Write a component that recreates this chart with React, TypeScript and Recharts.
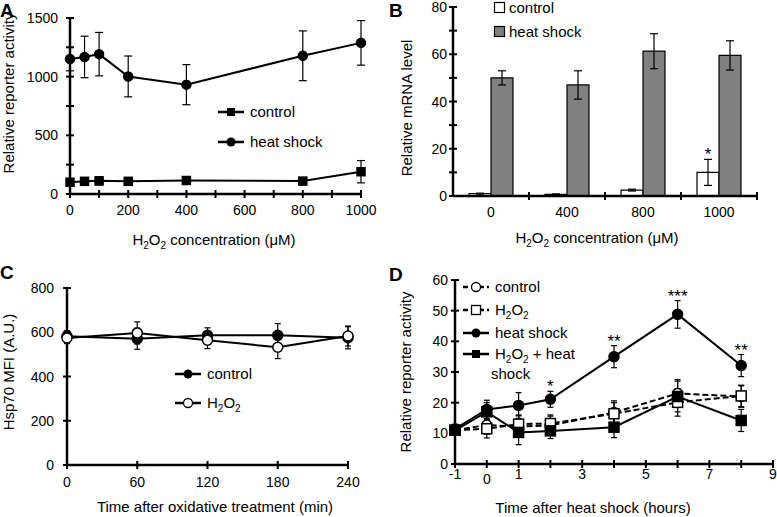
import React from "react";
import { LineChart, Line, BarChart, Bar, XAxis, YAxis, ErrorBar, ReferenceDot, Label } from "recharts";

const FONT = '"Liberation Sans", Arial, Helvetica, sans-serif';

// Panel A - reporter activity vs H2O2 dose
const A_DOSE = [0, 50, 100, 200, 400, 800, 1000];
const A_CONTROL = [100, 108, 112, 108, 115, 110, 190];
const A_CONTROL_ERR = [20, 30, 35, 30, 30, 25, 95];
const A_HEAT = [1150, 1168, 1192, 1002, 932, 1178, 1288];
const A_HEAT_ERR = [100, 177, 185, 174, 171, 212, 190];
const A_X_TICKS = [0, 100, 200, 300, 400, 500, 600, 700, 800, 900, 1000];
const A_X_LABELS = [0, 200, 400, 600, 800, 1000];
const A_Y_TICKS = [0, 250, 500, 750, 1000, 1250, 1500];
const A_Y_LABELS = [0, 500, 1000, 1500];

// Panel B - mRNA level
const B_DOSE = ["0", "400", "800", "1000"];
const B_CONTROL = [1, 0.7, 2.5, 10];
const B_CONTROL_ERR = [0.2, 0.2, 0.4, 5.5];
const B_HEAT = [50, 47, 61.3, 59.5];
const B_HEAT_ERR = [3, 6, 7.4, 6.2];
const B_SIG = ["", "", "", "*"];
const B_Y_TICKS = [0, 10, 20, 30, 40, 50, 60, 70, 80];
const B_Y_LABELS = [0, 20, 40, 60, 80];

// Panel C - Hsp70 MFI
const C_TIME = [0, 60, 120, 180, 240];
const C_CONTROL = [582, 571, 586, 586, 575];
const C_CONTROL_ERR = [25, 48, 34, 53, 50];
const C_H2O2 = [574, 597, 564, 532, 583];
const C_H2O2_ERR = [25, 50, 38, 51, 45];
const C_X_TICKS = [0, 60, 120, 180, 240];
const C_Y_TICKS = [0, 200, 400, 600, 800];

// Panel D - time course after heat shock
const D_TIME = [-1, 0, 1, 2, 4, 6, 8];
const D_CONTROL = [11, 12.7, 12.2, 12.6, 16.8, 23, 22];
const D_CONTROL_ERR = [1, 3, 3.5, 3, 3.8, 4.5, 3.5];
const D_H2O2 = [11, 11.5, 13, 13.2, 16.4, 20.1, 22.2];
const D_H2O2_ERR = [1, 3, 3, 2.8, 3.6, 4.5, 3.5];
const D_HEAT = [11.5, 17.8, 19.1, 21.1, 35, 48.8, 32.1];
const D_HEAT_ERR = [1, 3, 4.2, 2.6, 3.6, 4.5, 3.6];
const D_COMBO = [11, 17, 10.3, 10.8, 12, 22, 14.2];
const D_COMBO_ERR = [1, 3, 4, 2.5, 3.4, 5, 3.6];
const D_SIG = ["", "", "", "*", "**", "***", "**"];
const D_X_TICKS = [-1, 0, 1, 2, 3, 4, 5, 6, 7, 8, 9];
const D_X_LABELS = [-1, 0, 1, 3, 5, 7, 9];
const D_Y_TICKS = [0, 10, 20, 30, 40, 50, 60];

const aData = A_DOSE.map((x, i) => ({
  x,
  control: A_CONTROL[i],
  controlErr: A_CONTROL_ERR[i],
  heat: A_HEAT[i],
  heatErr: A_HEAT_ERR[i],
}));
const bData = B_DOSE.map((dose, i) => ({
  dose,
  control: B_CONTROL[i],
  controlErr: B_CONTROL_ERR[i],
  heat: B_HEAT[i],
  heatErr: B_HEAT_ERR[i],
}));
const cData = C_TIME.map((t, i) => ({
  t,
  control: C_CONTROL[i],
  controlErr: C_CONTROL_ERR[i],
  h2o2: C_H2O2[i],
  h2o2Err: C_H2O2_ERR[i],
}));
const dData = D_TIME.map((t, i) => ({
  t,
  control: D_CONTROL[i],
  controlErr: D_CONTROL_ERR[i],
  h2o2: D_H2O2[i],
  h2o2Err: D_H2O2_ERR[i],
  heat: D_HEAT[i],
  heatErr: D_HEAT_ERR[i],
  combo: D_COMBO[i],
  comboErr: D_COMBO_ERR[i],
}));

const AXIS = { stroke: "#000", strokeWidth: 2.5 };
const B_BAR = 22;
const B_BAND = 76;

// ticks cross the axis line, only some carry a label
function yTick(labels: number[], gap: number) {
  return (p: any) => {
    const v = p.payload.value;
    return (
      <g>
        <line x1={p.x - 4} x2={p.x + 4} y1={p.y} y2={p.y} stroke="#000" strokeWidth={2} />
        {labels.includes(v) && (
          <text x={p.x - gap} y={p.y + 5} textAnchor="end" fontSize={14} fontFamily={FONT} fill="#000">
            {v}
          </text>
        )}
      </g>
    );
  };
}

function xTick(labels: number[], dy: number, shift: Record<string, number> = {}) {
  return (p: any) => {
    const v = p.payload.value;
    return (
      <g>
        <line x1={p.x} x2={p.x} y1={p.y - 4} y2={p.y + 4} stroke="#000" strokeWidth={2} />
        {labels.includes(v) && (
          <text x={p.x} y={p.y + dy + (shift[String(v)] || 0)} textAnchor="middle" fontSize={14} fontFamily={FONT} fill="#000">
            {v}
          </text>
        )}
      </g>
    );
  };
}

const bXTick = (p: any) => {
  const half = B_BAND / 2;
  return (
    <g>
      {p.index > 0 && <line x1={p.x - half} x2={p.x - half} y1={p.y - 4} y2={p.y + 4} stroke="#000" strokeWidth={2} />}
      {p.index === B_DOSE.length - 1 && (
        <line x1={p.x + half} x2={p.x + half} y1={p.y - 4} y2={p.y + 4} stroke="#000" strokeWidth={2} />
      )}
      <text x={p.x} y={p.y + 21} textAnchor="middle" fontSize={14} fontFamily={FONT} fill="#000">
        {p.payload.value}
      </text>
    </g>
  );
};

function h2o2(rest: string) {
  return [
    <tspan key="a">H</tspan>,
    <tspan key="b" dy={4} fontSize={10}>2</tspan>,
    <tspan key="c" dy={-4}>O</tspan>,
    <tspan key="d" dy={4} fontSize={10}>2</tspan>,
    <tspan key="e" dy={-4}>{rest}</tspan>,
  ];
}

function title(x: number, y: number, rotate: boolean, node: React.ReactNode) {
  return (
    <Label
      content={() => (
        <text
          x={x}
          y={y}
          transform={rotate ? `rotate(-90 ${x} ${y})` : undefined}
          textAnchor="middle"
          fontSize={15}
          fontFamily={FONT}
          fill="#000"
        >
          {node}
        </text>
      )}
    />
  );
}

const circleDot = (fill: string, r: number) => (p: any) =>
  <circle key={`c${p.index}`} cx={p.cx} cy={p.cy} r={r} fill={fill} stroke="#000" strokeWidth={1.5} />;
const squareDot = (fill: string, s: number) => (p: any) =>
  <rect key={`s${p.index}`} x={p.cx - s / 2} y={p.cy - s / 2} width={s} height={s} fill={fill} stroke="#000" strokeWidth={1.5} />;

const starShape = (text: string, dx = 0) => (p: any) =>
  <text x={p.cx + dx} y={p.cy + 1} textAnchor="middle" fontSize={17} fontFamily={FONT} fill="#000">{text}</text>;

function LegendRow({ x, y, dashed, marker, children }: any) {
  return (
    <g>
      <line x1={x} x2={x + 26} y1={y} y2={y} stroke="#000" strokeWidth={2.5} strokeDasharray={dashed ? "5 3" : undefined} />
      {marker === "circle" && <circle cx={x + 13} cy={y} r={4.5} fill="#000" />}
      {marker === "ocircle" && <circle cx={x + 13} cy={y} r={4.5} fill="#fff" stroke="#000" strokeWidth={1.3} />}
      {marker === "square" && <rect x={x + 9} y={y - 4} width={8} height={8} fill="#000" />}
      {marker === "osquare" && <rect x={x + 8.5} y={y - 4.5} width={9} height={9} fill="#fff" stroke="#000" strokeWidth={1.3} />}
      <text x={x + 32} y={y + 5} fontSize={15} fontFamily={FONT} fill="#000">
        {children}
      </text>
    </g>
  );
}

function Overlay() {
  const letter = { fontSize: 19, fontWeight: 700, fontFamily: FONT, fill: "#000" } as const;
  return (
    <svg width={777} height={517} style={{ position: "absolute", left: 0, top: 0, pointerEvents: "none" }}>
      <text x={0} y={17} {...letter}>A</text>
      <text x={389} y={17} {...letter}>B</text>
      <text x={0} y={279} {...letter}>C</text>
      <text x={389} y={281} {...letter}>D</text>

      <LegendRow x={218} y={112} marker="square">control</LegendRow>
      <LegendRow x={218} y={142} marker="circle">heat shock</LegendRow>

      <rect x={494.5} y={2.5} width={10} height={10} fill="#fff" stroke="#000" strokeWidth={1.2} />
      <text x={509} y={13} fontSize={15} fontFamily={FONT}>control</text>
      <rect x={494.5} y={26.5} width={10} height={10} fill="#808080" stroke="#000" strokeWidth={1.2} />
      <text x={509} y={37} fontSize={15} fontFamily={FONT}>heat shock</text>

      <LegendRow x={175} y={374} marker="circle">control</LegendRow>
      <LegendRow x={175} y={403} marker="ocircle">{h2o2("")}</LegendRow>

      <LegendRow x={463} y={287} dashed marker="ocircle">control</LegendRow>
      <LegendRow x={463} y={310} dashed marker="osquare">{h2o2("")}</LegendRow>
      <LegendRow x={463} y={333} marker="circle">heat shock</LegendRow>
      <LegendRow x={463} y={354} marker="square">{h2o2(" + heat")}</LegendRow>
      <text x={491} y={379} fontSize={15} fontFamily={FONT}>shock</text>
    </svg>
  );
}

export default function App() {
  return (
    <div style={{ position: "absolute", left: 0, top: 0, width: 777, height: 517, background: "#fff", fontFamily: FONT }}>
      <div style={{ position: "absolute", left: 0, top: 0 }}>
        <LineChart width={390} height={255} data={aData} margin={{ top: 18, right: 29, bottom: 31, left: 30 }}>
          <XAxis
            dataKey="x"
            type="number"
            domain={[0, 1000]}
            ticks={A_X_TICKS}
            interval={0}
            height={30}
            axisLine={AXIS}
            tickLine={false}
            tickSize={0}
            tickMargin={0}
            tick={xTick(A_X_LABELS, 21)}
          >
            {title(214, 245, false, h2o2(" concentration (μM)"))}
          </XAxis>
          <YAxis
            type="number"
            domain={[0, 1500]}
            ticks={A_Y_TICKS}
            interval={0}
            width={40}
            axisLine={AXIS}
            tickLine={false}
            tickSize={0}
            tickMargin={0}
            tick={yTick(A_Y_LABELS, 12)}
          >
            {title(14, 93, true, "Relative reporter activity")}
          </YAxis>
          <Line dataKey="control" stroke="#000" strokeWidth={2} dot={squareDot("#000", 8)} isAnimationActive={false}>
            <ErrorBar dataKey="controlErr" direction="y" width={4} stroke="#000" strokeWidth={1.2} isAnimationActive={false} />
          </Line>
          <Line dataKey="heat" stroke="#000" strokeWidth={2} dot={circleDot("#000", 4.5)} isAnimationActive={false}>
            <ErrorBar dataKey="heatErr" direction="y" width={4} stroke="#000" strokeWidth={1.2} isAnimationActive={false} />
          </Line>
        </LineChart>
      </div>

      <div style={{ position: "absolute", left: 390, top: 0 }}>
        <BarChart
          width={387}
          height={255}
          data={bData}
          margin={{ top: 7, right: 20, bottom: 29, left: 23 }}
          barCategoryGap={16}
          barGap={0}
        >
          <XAxis dataKey="dose" height={30} axisLine={AXIS} tickLine={false} tickSize={0} tickMargin={0} interval={0} tick={bXTick}>
            {title(207, 243, false, h2o2(" concentration (μM)"))}
          </XAxis>
          <YAxis
            type="number"
            domain={[0, 80]}
            ticks={B_Y_TICKS}
            interval={0}
            width={40}
            axisLine={AXIS}
            tickLine={false}
            tickSize={0}
            tickMargin={0}
            tick={yTick(B_Y_LABELS, 6)}
          >
            {title(22, 108, true, "Relative mRNA level")}
          </YAxis>
          <Bar dataKey="control" barSize={B_BAR} fill="#fff" stroke="#000" strokeWidth={1.2} isAnimationActive={false}>
            <ErrorBar dataKey="controlErr" width={4} stroke="#000" strokeWidth={1.2} isAnimationActive={false} />
          </Bar>
          <Bar dataKey="heat" barSize={B_BAR} fill="#808080" stroke="#000" strokeWidth={1.2} isAnimationActive={false}>
            <ErrorBar dataKey="heatErr" width={4} stroke="#000" strokeWidth={1.2} isAnimationActive={false} />
          </Bar>
          {B_SIG.map((s, i) =>
            s ? (
              <ReferenceDot
                key={`bs${i}`}
                x={B_DOSE[i]}
                y={B_CONTROL[i] + B_CONTROL_ERR[i]}
                r={0}
                shape={starShape(s, -B_BAR / 2)}
              />
            ) : null
          )}
        </BarChart>
      </div>

      <div style={{ position: "absolute", left: 0, top: 255 }}>
        <LineChart width={390} height={262} data={cData} margin={{ top: 33, right: 42, bottom: 22, left: 27 }}>
          <XAxis
            dataKey="t"
            type="number"
            domain={[0, 240]}
            ticks={C_X_TICKS}
            interval={0}
            height={30}
            axisLine={AXIS}
            tickLine={false}
            tickSize={0}
            tickMargin={0}
            tick={xTick(C_X_TICKS, 22)}
          >
            {title(215, 257, false, "Time after oxidative treatment (min)")}
          </XAxis>
          <YAxis
            type="number"
            domain={[0, 800]}
            ticks={C_Y_TICKS}
            interval={0}
            width={40}
            axisLine={AXIS}
            tickLine={false}
            tickSize={0}
            tickMargin={0}
            tick={yTick(C_Y_TICKS, 13)}
          >
            {title(14, 117, true, "Hsp70 MFI (A.U.)")}
          </YAxis>
          <Line dataKey="control" stroke="#000" strokeWidth={2} dot={circleDot("#000", 5)} isAnimationActive={false}>
            <ErrorBar dataKey="controlErr" direction="y" width={3} stroke="#000" strokeWidth={1.2} isAnimationActive={false} />
          </Line>
          <Line dataKey="h2o2" stroke="#000" strokeWidth={2} dot={circleDot("#fff", 5)} isAnimationActive={false}>
            <ErrorBar dataKey="h2o2Err" direction="y" width={3} stroke="#000" strokeWidth={1.2} isAnimationActive={false} />
          </Line>
        </LineChart>
      </div>

      <div style={{ position: "absolute", left: 390, top: 255 }}>
        <LineChart width={387} height={262} data={dData} margin={{ top: 25, right: 4, bottom: 23, left: 25 }}>
          <XAxis
            dataKey="t"
            type="number"
            domain={[-1, 9]}
            ticks={D_X_TICKS}
            interval={0}
            height={30}
            axisLine={AXIS}
            tickLine={false}
            tickSize={0}
            tickMargin={0}
            tick={xTick(D_X_LABELS, 15, { "0": 5 })}
          >
            {title(203, 258, false, "Time after heat shock (hours)")}
          </XAxis>
          <YAxis
            type="number"
            domain={[0, 60]}
            ticks={D_Y_TICKS}
            interval={0}
            width={40}
            axisLine={AXIS}
            tickLine={false}
            tickSize={0}
            tickMargin={0}
            tick={yTick(D_Y_TICKS, 7)}
          >
            {title(21, 117, true, "Relative reporter activity")}
          </YAxis>
          <Line dataKey="control" stroke="#000" strokeWidth={2} strokeDasharray="6 3" dot={circleDot("#fff", 5)} isAnimationActive={false}>
            <ErrorBar dataKey="controlErr" direction="y" width={3} stroke="#000" strokeWidth={1.2} isAnimationActive={false} />
          </Line>
          <Line dataKey="h2o2" stroke="#000" strokeWidth={2} strokeDasharray="6 3" dot={squareDot("#fff", 10)} isAnimationActive={false}>
            <ErrorBar dataKey="h2o2Err" direction="y" width={3} stroke="#000" strokeWidth={1.2} isAnimationActive={false} />
          </Line>
          <Line dataKey="heat" stroke="#000" strokeWidth={2} dot={circleDot("#000", 5)} isAnimationActive={false}>
            <ErrorBar dataKey="heatErr" direction="y" width={3} stroke="#000" strokeWidth={1.2} isAnimationActive={false} />
          </Line>
          <Line dataKey="combo" stroke="#000" strokeWidth={2} dot={squareDot("#000", 10)} isAnimationActive={false}>
            <ErrorBar dataKey="comboErr" direction="y" width={3} stroke="#000" strokeWidth={1.2} isAnimationActive={false} />
          </Line>
          {D_SIG.map((s, i) =>
            s ? (
              <ReferenceDot key={`ds${i}`} x={D_TIME[i]} y={D_HEAT[i] + D_HEAT_ERR[i]} r={0} shape={starShape(s)} />
            ) : null
          )}
        </LineChart>
      </div>

      <Overlay />
    </div>
  );
}
